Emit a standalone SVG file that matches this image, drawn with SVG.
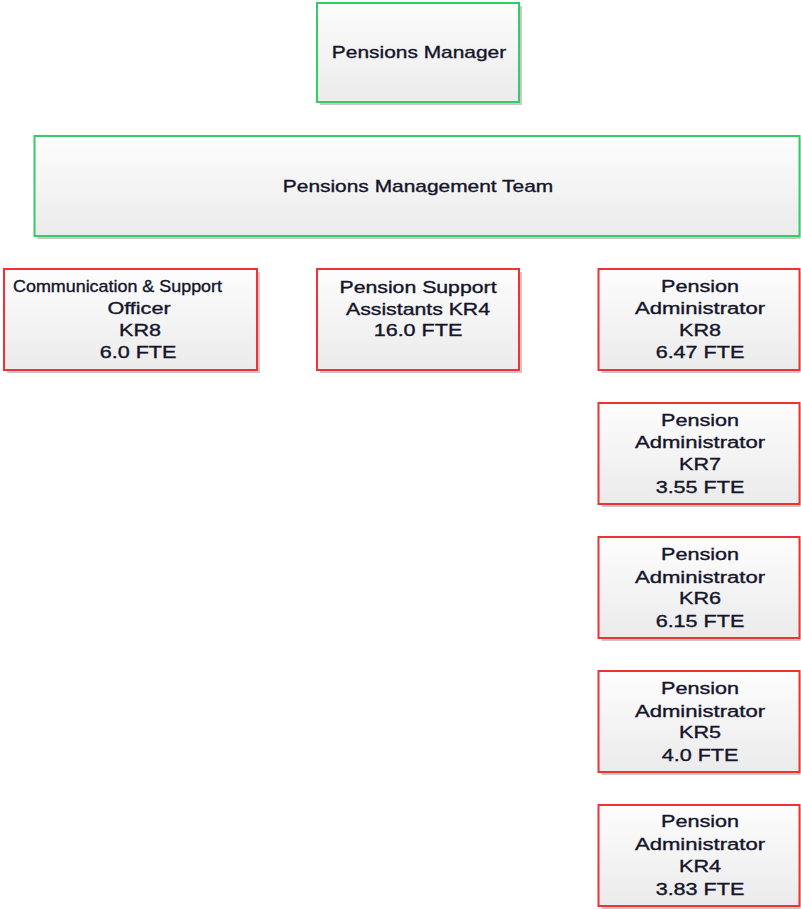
<svg xmlns="http://www.w3.org/2000/svg" width="801" height="909" viewBox="0 0 801 909">
<defs>
<linearGradient id="fill" x1="0" y1="0" x2="0" y2="1">
<stop offset="0" stop-color="#fdfdfd"/>
<stop offset="1" stop-color="#ebebeb"/>
</linearGradient>
</defs>
<style>
.shadow{fill:#c8c8c8}
.g{fill:url(#fill);stroke:#33cc66;stroke-width:2}
.r{fill:url(#fill);stroke:#ee3333;stroke-width:2}
text{font-family:"Liberation Sans",Arial,sans-serif;font-size:17px;fill:#14142a;stroke:#14142a;stroke-width:0.35;text-anchor:middle}
</style>
<rect width="801" height="909" fill="#ffffff"/>
<g id="connectors"/>
<g id="manager">
<rect class="shadow" x="320" y="6" width="202" height="99"/>
<rect class="g" x="317" y="3" width="202" height="99"/>
<text transform="translate(419,58) scale(1.23,1)">Pensions Manager</text>
</g>
<g id="team">
<rect class="shadow" x="37.5" y="139" width="763" height="100"/>
<rect class="g" x="34.5" y="136" width="765" height="100"/>
<text transform="translate(418,192) scale(1.23,1)">Pensions Management Team</text>
</g>
<g id="comm">
<rect class="shadow" x="7" y="272" width="253" height="101"/>
<rect class="r" x="4" y="269" width="253" height="101"/>
<text x="13" y="292" style="text-anchor:start" textLength="209" lengthAdjust="spacingAndGlyphs">Communication &amp; Support</text>
<text transform="translate(139,314) scale(1.27,1)">Officer</text>
<text transform="translate(140,336) scale(1.27,1)">KR8</text>
<text transform="translate(138,358) scale(1.27,1)">6.0 FTE</text>
</g>
<g id="support">
<rect class="shadow" x="320" y="272" width="202" height="101"/>
<rect class="r" x="317" y="269" width="202" height="101"/>
<text transform="translate(418,293) scale(1.25,1)">Pension Support</text>
<text transform="translate(418,315) scale(1.25,1)">Assistants KR4</text>
<text transform="translate(418,336) scale(1.27,1)">16.0 FTE</text>
</g>
<g id="admin-kr8">
<rect class="shadow" x="601.5" y="272" width="199" height="101"/>
<rect class="r" x="598.5" y="269" width="201" height="101"/>
<text transform="translate(700,292) scale(1.27,1)">Pension</text>
<text transform="translate(700,314) scale(1.3,1)">Administrator</text>
<text transform="translate(700,336) scale(1.27,1)">KR8</text>
<text transform="translate(700,358) scale(1.27,1)">6.47 FTE</text>
</g>
<g id="admin-kr7">
<rect class="shadow" x="601.5" y="406" width="199" height="101"/>
<rect class="r" x="598.5" y="403" width="201" height="101"/>
<text transform="translate(700,426) scale(1.27,1)">Pension</text>
<text transform="translate(700,448) scale(1.3,1)">Administrator</text>
<text transform="translate(700,470) scale(1.27,1)">KR7</text>
<text transform="translate(700,493) scale(1.27,1)">3.55 FTE</text>
</g>
<g id="admin-kr6">
<rect class="shadow" x="601.5" y="540" width="199" height="101"/>
<rect class="r" x="598.5" y="537" width="201" height="101"/>
<text transform="translate(700,560) scale(1.27,1)">Pension</text>
<text transform="translate(700,583) scale(1.3,1)">Administrator</text>
<text transform="translate(700,604) scale(1.27,1)">KR6</text>
<text transform="translate(700,627) scale(1.27,1)">6.15 FTE</text>
</g>
<g id="admin-kr5">
<rect class="shadow" x="601.5" y="674" width="199" height="101"/>
<rect class="r" x="598.5" y="671" width="201" height="101"/>
<text transform="translate(700,694) scale(1.27,1)">Pension</text>
<text transform="translate(700,717) scale(1.3,1)">Administrator</text>
<text transform="translate(700,738) scale(1.27,1)">KR5</text>
<text transform="translate(700,761) scale(1.27,1)">4.0 FTE</text>
</g>
<g id="admin-kr4">
<rect class="shadow" x="601.5" y="808" width="199" height="101"/>
<rect class="r" x="598.5" y="805" width="201" height="101"/>
<text transform="translate(700,827) scale(1.27,1)">Pension</text>
<text transform="translate(700,850) scale(1.3,1)">Administrator</text>
<text transform="translate(700,872) scale(1.27,1)">KR4</text>
<text transform="translate(700,895) scale(1.27,1)">3.83 FTE</text>
</g>
</svg>
